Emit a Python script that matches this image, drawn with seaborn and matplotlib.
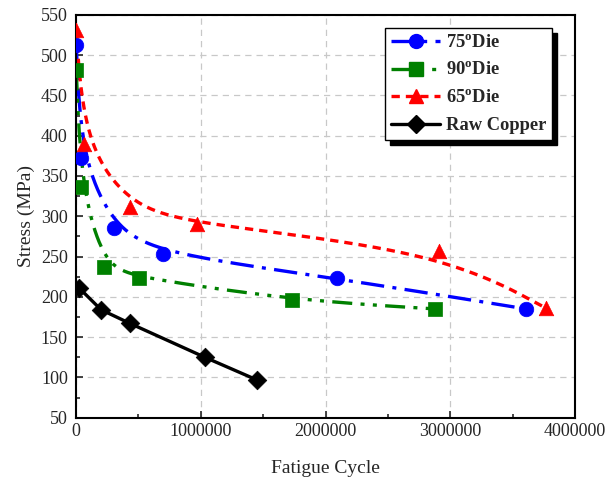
import numpy as np
import pandas as pd
import seaborn as sns
import matplotlib.pyplot as plt
from matplotlib.ticker import MultipleLocator

sns.set_style("ticks")
plt.rcParams['font.family'] = ['Liberation Serif', 'DejaVu Serif']
plt.rcParams['mathtext.fontset'] = 'custom'
plt.rcParams['mathtext.rm'] = 'Liberation Serif'
plt.rcParams['mathtext.bf'] = 'Liberation Serif:bold'

# values
cyc_75 = [1000, 40000, 304000, 696000, 2096000, 3608000]
mpa_75 = [513, 372, 285, 253, 223, 185]
cyc_90 = [1000, 40000, 224000, 504000, 1728000, 2880000]
mpa_90 = [481, 336, 237, 224, 196, 185]
cyc_65 = [1000, 64000, 432000, 968000, 2912000, 3768000]
mpa_65 = [531, 390, 312, 290, 257, 186]
cyc_raw = [24000, 200000, 432000, 1032000, 1448000]
mpa_raw = [211, 184, 167, 125, 97]

labels = [r"75$^\mathbf{o}$Die", r"90$^\mathbf{o}$Die", r"65$^\mathbf{o}$Die", "Raw Copper"]


def bspline(x, y, n=60):
    # clamped uniform cubic b-spline through the control points (line only, like Origin)
    p = np.column_stack([x, y]).astype(float)
    p = np.vstack([p[:1], p[:1], p, p[-1:], p[-1:]])
    t = np.linspace(0, 1, n)
    b0 = (1 - t) ** 3 / 6
    b1 = (3 * t**3 - 6 * t**2 + 4) / 6
    b2 = (-3 * t**3 + 3 * t**2 + 3 * t + 1) / 6
    b3 = t**3 / 6
    segs = []
    for i in range(len(p) - 3):
        seg = (np.outer(b0, p[i]) + np.outer(b1, p[i + 1])
               + np.outer(b2, p[i + 2]) + np.outer(b3, p[i + 3]))
        segs.append(seg)
    s = np.vstack(segs)
    return s[:, 0], s[:, 1]


series = [
    (cyc_75, mpa_75, "blue", "o", (0, (7, 2.5, 1.2, 2.5)), True),
    (cyc_90, mpa_90, "green", "s", (0, (6, 2.5, 1.2, 2.5, 1.2, 2.5)), True),
    (cyc_65, mpa_65, "red", "^", (0, (2.5, 1.8)), True),
    (cyc_raw, mpa_raw, "black", "D", "-", False),
]

fig, ax = plt.subplots(figsize=(6.09, 4.79), dpi=100)
fig.subplots_adjust(left=0.125, right=0.944, top=0.969, bottom=0.128)

handles = []
for (x, y, col, mk, ls, smooth), lab in zip(series, labels):
    if smooth:
        sx, sy = bspline(x, y)
    else:
        sx, sy = np.array(x), np.array(y)
    df_line = pd.DataFrame({"cycle": sx, "stress": sy})
    sns.lineplot(data=df_line, x="cycle", y="stress", sort=False, ax=ax,
                 color=col, lw=2.4, linestyle=ls, clip_on=True)
    df_pts = pd.DataFrame({"cycle": x, "stress": y})
    sns.scatterplot(data=df_pts, x="cycle", y="stress", ax=ax, color=col,
                    marker=mk, s=110 if mk != "D" else 90, edgecolor=col,
                    linewidth=0.5, zorder=5, clip_on=True)
    h, = ax.plot([], [], color=col, lw=2.4, linestyle=ls, marker=mk,
                 markersize=10 if mk != "D" else 9, markeredgecolor=col)
    handles.append(h)

ax.set_xlim(0, 4000000)
ax.set_ylim(50, 550)
ax.xaxis.set_major_locator(MultipleLocator(1000000))
ax.xaxis.set_minor_locator(MultipleLocator(500000))
ax.yaxis.set_major_locator(MultipleLocator(50))
ax.yaxis.set_minor_locator(MultipleLocator(25))
ax.tick_params(which="both", direction="in", top=False, right=False,
               labelsize=13, width=1.2)
ax.tick_params(which="major", length=5)
ax.tick_params(which="minor", length=3)
ax.tick_params(axis="y", which="major", pad=6)
ax.tick_params(axis="x", which="major", pad=4)
ax.ticklabel_format(style="plain", axis="x")
ax.grid(True, which="major", color="#c8c8c8", linestyle=(0, (5, 4)), lw=0.9)
for sp in ax.spines.values():
    sp.set_linewidth(1.5)
    sp.set_color("black")

ax.set_xlabel("Fatigue Cycle", fontsize=14, labelpad=14)
ax.set_ylabel("Stress (MPa)", fontsize=14, labelpad=4)

leg = ax.legend(handles, labels, loc="upper right", bbox_to_anchor=(0.955, 0.967),
                fancybox=False, framealpha=1, edgecolor="black",
                shadow={"color": "black", "alpha": 1, "ox": 3.5, "oy": -3.5},
                prop={"weight": "bold", "size": 13.3}, handlelength=2.65,
                handletextpad=0.3, borderpad=0.35, labelspacing=0.55,
                borderaxespad=0)
leg.get_frame().set_linewidth(1.0)

plt.savefig("out.png", dpi=100)
